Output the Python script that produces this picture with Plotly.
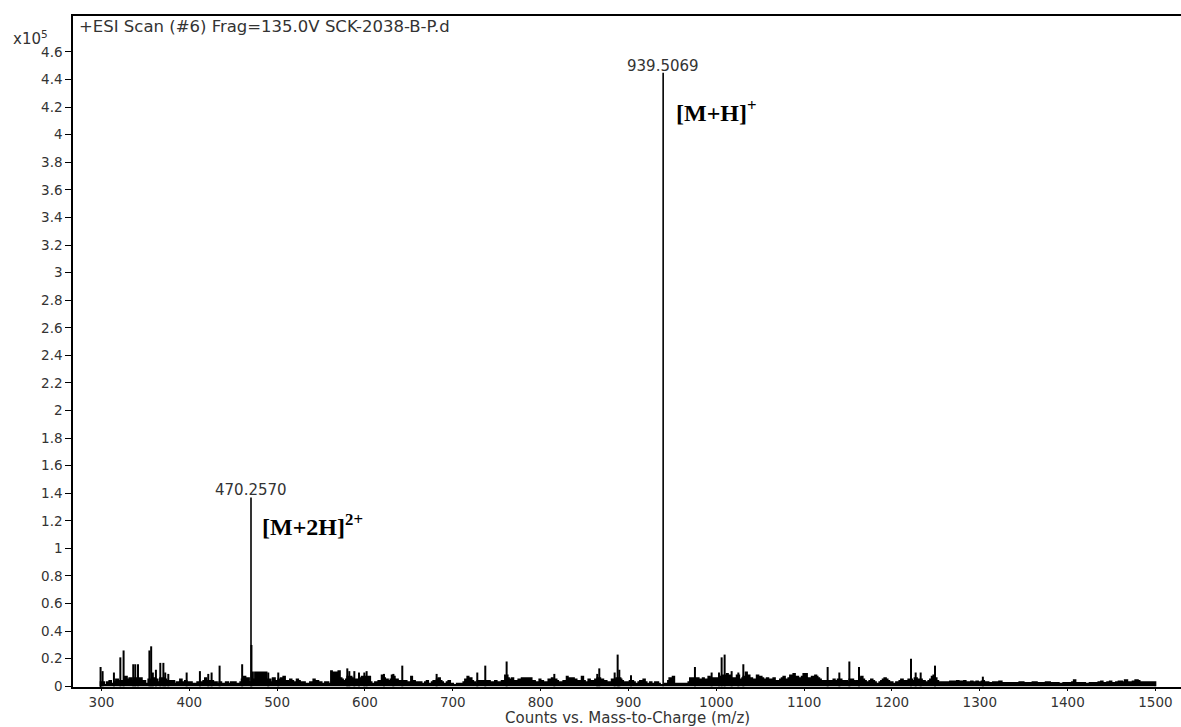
import plotly.graph_objects as go

# ---------------- data (intensities in units of 10^5 counts) ----------------
floor_mz = [
    298.0, 299.0, 301.3, 303.0, 305.9, 308.9, 311.0, 314.2, 316.5, 319.0, 321.1, 324.9, 326.7, 329.0,
    331.7, 334.0, 336.2, 338.5, 341.9, 343.8, 346.0, 347.6, 350.0, 353.3, 356.0, 358.2, 360.0, 362.0,
    364.0, 366.6, 369.6, 372.3, 374.0, 376.1, 378.5, 381.0, 383.0, 385.6, 387.5, 389.4, 391.5, 393.5,
    395.0, 397.0, 399.0, 400.8, 403.0, 406.4, 409.0, 412.1, 414.0, 415.9, 417.8, 419.5, 421.6, 423.5,
    425.4, 427.3, 429.2, 431.5, 434.1, 436.5, 438.7, 441.5, 444.4, 447.3, 450.1, 453.0, 455.8, 458.0,
    459.6, 462.2, 464.0, 466.0, 468.0, 471.0, 472.5, 474.8, 476.5, 478.5, 480.5, 482.3, 484.2, 486.1,
    488.0, 489.9, 492.5, 494.9, 497.5, 499.5, 501.3, 504.0, 507.0, 509.0, 510.8, 512.5, 514.6, 516.5,
    518.4, 520.3, 522.2, 524.0, 526.0, 528.0, 529.8, 531.7, 533.6, 535.5, 537.4, 539.3, 541.2, 543.0,
    545.0, 547.0, 548.8, 550.7, 552.6, 554.5, 556.4, 558.5, 561.3, 562.5, 564.0, 566.0, 567.8, 569.7,
    571.5, 573.4, 575.0, 576.5, 578.2, 579.9, 582.2, 584.8, 586.3, 587.9, 590.5, 592.0, 593.2, 594.5,
    596.2, 597.7, 599.3, 601.9, 603.0, 604.6, 606.0, 607.6, 609.5, 611.4, 613.3, 615.2, 617.0, 619.0,
    621.6, 623.0, 624.7, 626.2, 627.7, 629.0, 630.4, 632.3, 634.0, 636.1, 637.6, 639.1, 640.8, 642.5,
    644.0, 645.5, 647.5, 649.3, 651.0, 652.4, 653.8, 655.0, 657.0, 658.8, 660.7, 662.6, 664.5, 666.4,
    668.3, 670.2, 672.0, 674.0, 676.0, 677.8, 679.5, 681.6, 683.5, 685.5, 687.3, 689.0, 691.1, 693.0,
    694.9, 697.0, 698.7, 700.5, 702.5, 704.5, 706.3, 708.2, 710.1, 712.0, 713.9, 715.2, 716.5, 718.0,
    719.6, 721.5, 723.3, 725.5, 727.9, 729.5, 730.9, 732.2, 733.6, 735.3, 737.0, 738.7, 740.4, 742.3,
    744.2, 746.0, 748.0, 750.0, 751.8, 753.7, 755.6, 757.5, 759.4, 761.3, 762.5, 764.0, 765.5, 767.0,
    769.0, 770.8, 772.7, 774.6, 776.5, 778.4, 780.3, 782.2, 784.1, 786.0, 787.9, 789.8, 791.7, 793.6,
    795.5, 797.0, 798.5, 800.0, 801.2, 803.0, 805.0, 807.0, 808.8, 810.7, 812.6, 814.0, 815.6, 818.2,
    820.0, 822.0, 824.0, 825.8, 827.7, 829.6, 831.0, 832.7, 834.5, 836.5, 838.0, 839.1, 841.0, 842.9,
    844.8, 846.7, 848.6, 850.5, 852.4, 854.3, 856.2, 858.1, 860.0, 861.9, 863.2, 864.5, 866.8, 868.0,
    869.5, 871.4, 873.3, 875.2, 877.1, 879.0, 880.9, 882.6, 884.3, 886.0, 887.7, 889.6, 891.0, 892.2,
    894.0, 896.0, 898.0, 899.8, 901.3, 902.9, 905.5, 907.4, 909.3, 911.2, 913.1, 915.0, 916.9, 918.8,
    920.7, 922.6, 924.5, 926.4, 928.3, 930.2, 932.1, 934.0, 935.9, 937.8, 941.5, 943.5, 945.0, 946.5,
    948.4, 950.3, 952.2, 954.1, 956.4, 958.7, 960.6, 962.5, 964.4, 966.3, 968.2, 970.0, 971.5, 973.1,
    975.7, 977.0, 978.4, 980.0, 981.4, 983.0, 984.5, 986.0, 987.1, 989.0, 990.9, 992.8, 994.7, 996.0,
    997.4, 999.0, 1000.4, 1001.8, 1003.1, 1004.6, 1006.1, 1008.0, 1009.5, 1011.8, 1013.3, 1014.8, 1016.0, 1017.5,
    1020.1, 1021.6, 1023.2, 1025.1, 1026.2, 1028.1, 1029.5, 1030.8, 1033.4, 1035.0, 1036.5, 1038.0, 1039.5, 1041.0,
    1042.2, 1044.0, 1046.0, 1048.0, 1049.8, 1051.7, 1053.6, 1055.5, 1057.4, 1059.3, 1061.1, 1063.0, 1064.9, 1066.8,
    1068.7, 1070.6, 1072.5, 1074.4, 1076.3, 1078.2, 1080.1, 1082.0, 1083.9, 1085.8, 1087.7, 1089.6, 1091.5, 1093.4,
    1095.3, 1097.2, 1099.1, 1100.5, 1101.8, 1103.3, 1104.8, 1106.7, 1108.6, 1110.5, 1112.4, 1114.0, 1115.4, 1117.3,
    1119.2, 1121.1, 1123.0, 1124.9, 1126.8, 1129.5, 1131.4, 1133.3, 1135.0, 1136.3, 1138.2, 1140.1, 1142.7, 1144.6,
    1146.5, 1149.0, 1151.5, 1154.1, 1156.0, 1157.9, 1160.0, 1162.5, 1164.8, 1166.7, 1168.5, 1170.4, 1172.3, 1174.2,
    1176.1, 1178.0, 1179.9, 1181.8, 1183.7, 1185.6, 1187.5, 1189.4, 1191.3, 1193.2, 1195.1, 1197.0, 1198.9, 1200.8,
    1202.7, 1204.6, 1206.5, 1208.4, 1210.3, 1212.5, 1214.8, 1216.7, 1218.6, 1220.0, 1221.7, 1223.0, 1224.3, 1225.7,
    1227.0, 1228.5, 1230.0, 1231.3, 1232.7, 1234.2, 1235.7, 1237.6, 1239.5, 1241.4, 1243.3, 1245.2, 1247.1, 1249.0,
    1250.9, 1252.8, 1254.7, 1256.6, 1258.5, 1260.4, 1262.3, 1264.2, 1266.1, 1268.0, 1270.0, 1272.0, 1274.0, 1276.0,
    1278.0, 1280.0, 1282.0, 1284.0, 1286.0, 1288.0, 1290.0, 1292.0, 1294.0, 1296.0, 1298.0, 1300.0, 1302.0, 1303.5,
    1305.0, 1308.0, 1310.0, 1312.0, 1315.0, 1318.0, 1320.0, 1322.0, 1325.0, 1330.0, 1335.0, 1340.0, 1345.0, 1350.0,
    1355.0, 1360.0, 1365.0, 1370.0, 1375.0, 1380.0, 1385.0, 1390.0, 1395.0, 1400.0, 1405.0, 1407.0, 1409.0, 1415.0,
    1420.0, 1425.0, 1430.0, 1435.0, 1438.0, 1440.0, 1445.0, 1448.0, 1450.0, 1455.0, 1458.0, 1462.0, 1465.0, 1468.0,
    1470.0, 1474.0, 1477.0, 1480.0, 1482.0, 1485.0, 1490.0, 1495.0, 1499.0, 1500.0,
]
floor_int = [
    0.00, 0.03, 0.03, 0.01, 0.03, 0.04, 0.02, 0.03, 0.05, 0.02, 0.04, 0.04, 0.07, 0.05,
    0.06, 0.04, 0.06, 0.06, 0.05, 0.06, 0.03, 0.04, 0.02, 0.05, 0.05, 0.06, 0.04, 0.05,
    0.03, 0.06, 0.06, 0.05, 0.04, 0.04, 0.04, 0.04, 0.02, 0.03, 0.02, 0.05, 0.03, 0.02,
    0.04, 0.03, 0.02, 0.03, 0.02, 0.02, 0.03, 0.03, 0.02, 0.04, 0.06, 0.03, 0.04, 0.03,
    0.04, 0.02, 0.03, 0.02, 0.03, 0.02, 0.02, 0.03, 0.02, 0.03, 0.03, 0.02, 0.02, 0.03,
    0.05, 0.07, 0.04, 0.06, 0.03, 0.10, 0.05, 0.10, 0.10, 0.08, 0.10, 0.10, 0.07, 0.10,
    0.04, 0.05, 0.03, 0.06, 0.03, 0.04, 0.05, 0.06, 0.07, 0.04, 0.04, 0.03, 0.05, 0.04,
    0.03, 0.02, 0.05, 0.04, 0.03, 0.02, 0.03, 0.02, 0.02, 0.02, 0.03, 0.02, 0.05, 0.04,
    0.04, 0.03, 0.03, 0.02, 0.02, 0.03, 0.03, 0.02, 0.11, 0.08, 0.10, 0.10, 0.10, 0.11,
    0.06, 0.05, 0.03, 0.04, 0.05, 0.07, 0.07, 0.06, 0.04, 0.05, 0.05, 0.04, 0.06, 0.06,
    0.07, 0.05, 0.07, 0.07, 0.06, 0.07, 0.03, 0.02, 0.02, 0.03, 0.02, 0.04, 0.03, 0.08,
    0.06, 0.05, 0.05, 0.03, 0.04, 0.05, 0.08, 0.07, 0.05, 0.05, 0.03, 0.04, 0.03, 0.04,
    0.03, 0.04, 0.02, 0.03, 0.02, 0.07, 0.04, 0.04, 0.02, 0.03, 0.02, 0.03, 0.02, 0.02,
    0.03, 0.04, 0.02, 0.02, 0.03, 0.04, 0.03, 0.05, 0.06, 0.04, 0.03, 0.02, 0.02, 0.03,
    0.04, 0.02, 0.02, 0.01, 0.01, 0.02, 0.02, 0.01, 0.02, 0.03, 0.05, 0.04, 0.07, 0.04,
    0.06, 0.04, 0.03, 0.02, 0.04, 0.03, 0.04, 0.03, 0.04, 0.03, 0.04, 0.03, 0.04, 0.03,
    0.03, 0.02, 0.04, 0.03, 0.03, 0.02, 0.04, 0.03, 0.08, 0.08, 0.06, 0.05, 0.04, 0.06,
    0.04, 0.03, 0.04, 0.05, 0.05, 0.06, 0.06, 0.05, 0.06, 0.05, 0.06, 0.04, 0.04, 0.03,
    0.03, 0.02, 0.05, 0.03, 0.04, 0.03, 0.02, 0.03, 0.05, 0.04, 0.06, 0.04, 0.05, 0.04,
    0.03, 0.03, 0.02, 0.04, 0.03, 0.07, 0.05, 0.06, 0.04, 0.06, 0.05, 0.05, 0.03, 0.04,
    0.03, 0.07, 0.04, 0.03, 0.02, 0.05, 0.03, 0.04, 0.03, 0.05, 0.04, 0.06, 0.06, 0.05,
    0.05, 0.03, 0.04, 0.03, 0.03, 0.02, 0.05, 0.04, 0.05, 0.06, 0.06, 0.06, 0.05, 0.04,
    0.03, 0.03, 0.02, 0.03, 0.04, 0.04, 0.03, 0.02, 0.02, 0.03, 0.04, 0.03, 0.05, 0.03,
    0.02, 0.02, 0.03, 0.02, 0.02, 0.03, 0.03, 0.02, 0.01, 0.01, 0.02, 0.02, 0.04, 0.06,
    0.03, 0.07, 0.02, 0.02, 0.02, 0.02, 0.02, 0.02, 0.02, 0.02, 0.03, 0.06, 0.04, 0.06,
    0.06, 0.06, 0.06, 0.04, 0.05, 0.04, 0.06, 0.04, 0.05, 0.04, 0.07, 0.05, 0.06, 0.05,
    0.06, 0.04, 0.06, 0.05, 0.07, 0.06, 0.08, 0.07, 0.08, 0.09, 0.06, 0.08, 0.06, 0.06,
    0.05, 0.06, 0.08, 0.08, 0.05, 0.04, 0.06, 0.07, 0.10, 0.08, 0.08, 0.06, 0.06, 0.05,
    0.04, 0.05, 0.08, 0.06, 0.07, 0.06, 0.05, 0.04, 0.06, 0.05, 0.04, 0.05, 0.06, 0.04,
    0.03, 0.04, 0.05, 0.06, 0.07, 0.05, 0.04, 0.06, 0.08, 0.07, 0.09, 0.07, 0.07, 0.06,
    0.05, 0.07, 0.09, 0.08, 0.09, 0.06, 0.05, 0.06, 0.07, 0.06, 0.08, 0.07, 0.06, 0.05,
    0.04, 0.04, 0.03, 0.04, 0.04, 0.04, 0.03, 0.05, 0.04, 0.03, 0.05, 0.05, 0.04, 0.03,
    0.04, 0.03, 0.05, 0.05, 0.04, 0.03, 0.04, 0.06, 0.07, 0.05, 0.04, 0.03, 0.03, 0.04,
    0.05, 0.04, 0.03, 0.02, 0.02, 0.03, 0.04, 0.05, 0.06, 0.05, 0.04, 0.03, 0.03, 0.02,
    0.02, 0.03, 0.03, 0.04, 0.05, 0.04, 0.03, 0.04, 0.05, 0.05, 0.05, 0.04, 0.04, 0.06,
    0.06, 0.05, 0.04, 0.05, 0.05, 0.04, 0.04, 0.03, 0.03, 0.04, 0.05, 0.07, 0.08, 0.06,
    0.04, 0.03, 0.03, 0.02, 0.03, 0.03, 0.03, 0.02, 0.035, 0.03, 0.035, 0.03, 0.04, 0.03,
    0.035, 0.03, 0.04, 0.03, 0.03, 0.03, 0.035, 0.03, 0.03, 0.035, 0.03, 0.03, 0.035, 0.04,
    0.03, 0.03, 0.025, 0.025, 0.03, 0.025, 0.03, 0.035, 0.025, 0.025, 0.025, 0.025, 0.03, 0.025,
    0.025, 0.03, 0.025, 0.025, 0.03, 0.025, 0.025, 0.02, 0.025, 0.025, 0.03, 0.045, 0.025, 0.025,
    0.02, 0.025, 0.025, 0.03, 0.035, 0.025, 0.03, 0.035, 0.025, 0.03, 0.035, 0.03, 0.045, 0.03,
    0.03, 0.035, 0.045, 0.04, 0.03, 0.03, 0.03, 0.03, 0.03, 0.00,
]

spike_mz = [
    299.0, 301.3, 314.2, 321.5, 325.2, 336.2, 338.5, 341.6, 354.6, 356.6, 358.5, 362.0, 367.0, 370.5,
    372.6, 376.1, 397.0, 412.1, 421.6, 425.4, 434.5, 460.2, 470.76, 489.9, 501.3, 579.9, 582.2, 587.9,
    593.2, 599.3, 601.9, 621.6, 632.3, 642.5, 681.6, 727.9, 737.0, 761.3, 815.6, 864.5, 866.8, 884.3,
    887.7, 889.6, 902.9, 975.7, 994.7, 1003.1, 1006.1, 1009.5, 1017.5, 1025.1, 1030.8, 1126.8, 1140.1,
    1151.5, 1162.5, 1221.7, 1227.0, 1232.7, 1249.0, 1303.5,
]
spike_int = [
    0.14, 0.11, 0.10, 0.21, 0.26, 0.16, 0.16, 0.16, 0.26, 0.29, 0.10, 0.12, 0.17, 0.17,
    0.10, 0.09, 0.10, 0.11, 0.09, 0.10, 0.15, 0.16, 0.30, 0.10, 0.10, 0.13, 0.11, 0.11,
    0.10, 0.10, 0.11, 0.09, 0.09, 0.15, 0.09, 0.10, 0.15, 0.18, 0.09, 0.09, 0.13, 0.10,
    0.23, 0.12, 0.08, 0.14, 0.10, 0.10, 0.21, 0.23, 0.11, 0.10, 0.16, 0.14, 0.10,
    0.18, 0.14, 0.20, 0.10, 0.10, 0.15, 0.07,
]

label_mz = [470.2570, 939.5069]
label_int = [1.37, 4.45]
label_text = ["470.2570", "939.5069"]

ion_text = ["[M+2H]<sup>2+</sup>", "[M+H]<sup>+</sup>"]
ion_mz = [480.5, 951.9]
ion_int = [1.17, 4.17]

x_ticks = [300, 400, 500, 600, 700, 800, 900, 1000, 1100, 1200, 1300, 1400, 1500]
y_ticks = [0, 0.2, 0.4, 0.6, 0.8, 1, 1.2, 1.4, 1.6, 1.8, 2, 2.2, 2.4, 2.6, 2.8, 3, 3.2, 3.4,
           3.6, 3.8, 4, 4.2, 4.4, 4.6]
y_tick_labels = ["0", "0.2", "0.4", "0.6", "0.8", "1", "1.2", "1.4", "1.6", "1.8", "2", "2.2",
                 "2.4", "2.6", "2.8", "3", "3.2", "3.4", "3.6", "3.8", "4", "4.2", "4.4", "4.6"]

title_text = "+ESI Scan (#6) Frag=135.0V SCK-2038-B-P.d"
x_title = "Counts vs. Mass-to-Charge (m/z)"

# ---------------- figure ----------------
def sticks(xs, ys):
    sx, sy = [], []
    for a, b in zip(xs, ys):
        sx += [a, a, None]
        sy += [0, b, None]
    return sx, sy

fig = go.Figure()
fig.add_trace(go.Scatter(x=floor_mz, y=floor_int, mode="lines",
                         line=dict(shape="hv", width=1.8, color="black"),
                         fill="tozeroy", fillcolor="black", hoverinfo="skip"))
sx, sy = sticks(spike_mz, spike_int)
fig.add_trace(go.Scatter(x=sx, y=sy, mode="lines", line=dict(width=2, color="black"),
                         hoverinfo="skip"))
lx, ly = sticks(label_mz, label_int)
fig.add_trace(go.Scatter(x=lx, y=ly, mode="lines", line=dict(width=1.6, color="black"),
                         hoverinfo="skip"))

small = dict(family="DejaVu Sans", size=15, color="#333333")
ticksz = dict(family="DejaVu Sans", size=13.5, color="#333333")

for m, v, t in zip(label_mz, label_int, label_text):
    fig.add_annotation(x=m, y=v, text=t, showarrow=False, xanchor="center",
                       yanchor="bottom", yshift=-4, font=small)
for m, v, t in zip(ion_mz, ion_int, ion_text):
    fig.add_annotation(x=m, y=v, text="<b>" + t + "</b>", showarrow=False,
                       xanchor="left", yanchor="middle",
                       font=dict(family="Liberation Serif", size=24, color="black"))

fig.add_annotation(xref="paper", yref="paper", x=0.0036, y=0.985, text=title_text,
                   showarrow=False, xanchor="left", yanchor="middle",
                   font=dict(family="DejaVu Sans", size=16.5, color="#333333"))
fig.add_annotation(xref="paper", yref="paper", x=-0.056, y=0.967, text="x10<sup>5</sup>",
                   showarrow=False, xanchor="left", yanchor="middle", font=small)
fig.add_annotation(xref="paper", yref="paper", x=0.5, y=-0.0462, text=x_title,
                   showarrow=False, xanchor="center", yanchor="middle",
                   font=dict(family="DejaVu Sans", size=15, color="#333333"))

fig.update_layout(
    width=1181, height=727,
    margin=dict(l=73, r=0, t=16, b=40),
    paper_bgcolor="white", plot_bgcolor="white",
    showlegend=False,
    xaxis=dict(range=[267.6, 1529.1], tickvals=x_ticks, ticks="outside", ticklen=2,
               tickcolor="black", tickwidth=1, showline=True, linecolor="black",
               linewidth=2, mirror=True, showgrid=False, zeroline=False,
               tickfont=ticksz, fixedrange=True),
    yaxis=dict(range=[-0.005, 4.861], tickvals=y_ticks, ticktext=y_tick_labels,
               ticks="outside", ticklen=6, tickcolor="black", tickwidth=1,
               showline=True, linecolor="black", linewidth=1.5, showgrid=False,
               zeroline=False, tickfont=ticksz, fixedrange=True),
)

fig.write_html("out.html")
